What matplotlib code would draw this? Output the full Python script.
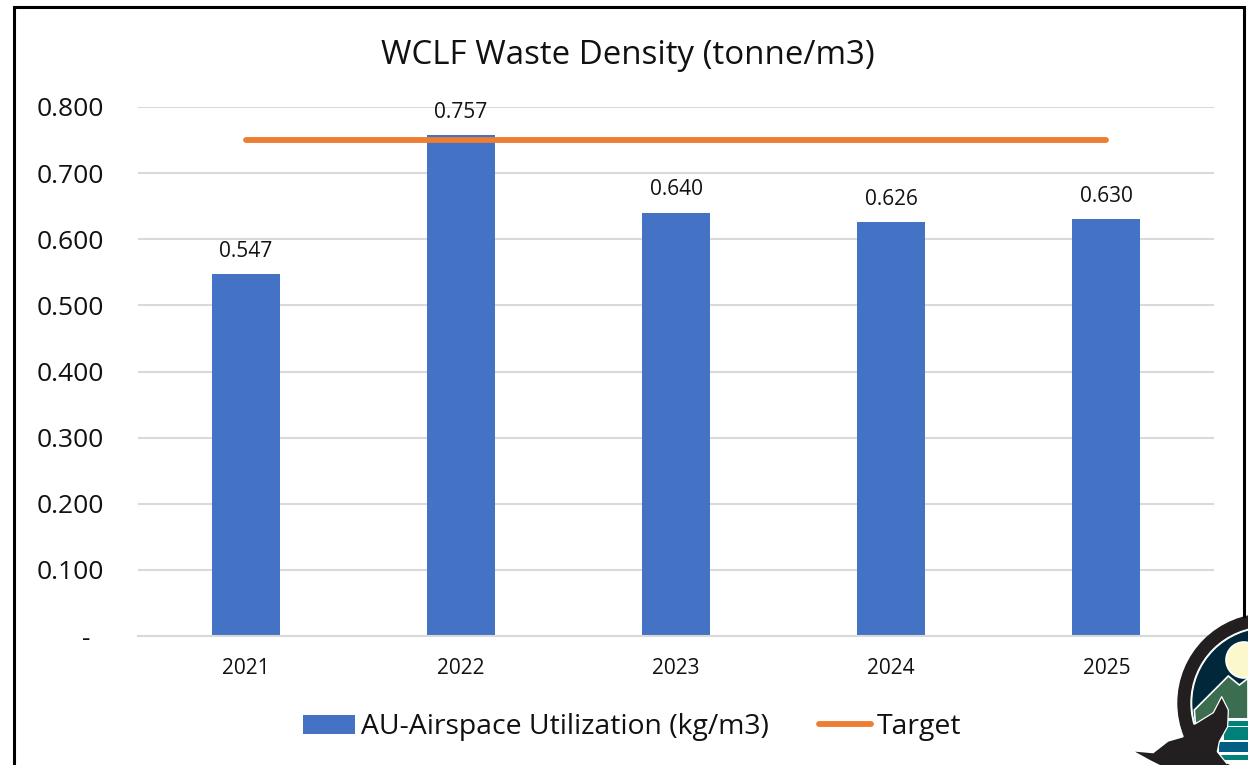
import numpy as np
import matplotlib
matplotlib.use('Agg')
import matplotlib.pyplot as plt
from matplotlib.patches import Circle, Polygon, Rectangle
from matplotlib.transforms import ScaledTranslation

years = ['2021', '2022', '2023', '2024', '2025']
density = [0.547, 0.757, 0.640, 0.626, 0.630]
target = [0.75, 0.75, 0.75, 0.75, 0.75]
yticks = [0.0, 0.1, 0.2, 0.3, 0.4, 0.5, 0.6, 0.7, 0.8]
ytick_labels = ['-', '0.100', '0.200', '0.300', '0.400', '0.500', '0.600', '0.700', '0.800']

W, H = 1248, 765
BLUE = '#4472C4'
ORANGE = '#ED7D31'
plt.rcParams['font.family'] = ['Open Sans', 'DejaVu Sans']

fig = plt.figure(figsize=(W / 100, H / 100), dpi=100)

# chart area, placed from pixel positions in the reference
ax = fig.add_axes([138 / W, 1 - 636 / H, (1214 - 138) / W, (636 - 107) / H])
x = np.arange(len(years))
bars = ax.bar(x, density, width=0.316, color=BLUE, zorder=2,
              label='AU-Airspace Utilization (kg/m3)')
line, = ax.plot(x, target, color=ORANGE, linewidth=4.2, solid_capstyle='round',
                zorder=3, label='Target')
for xi, v in zip(x, density):
    ax.annotate(f'{v:.3f}', (xi, v), xytext=(0, 12.5), textcoords='offset pixels',
                ha='center', va='bottom', fontsize=15, color='#111111', zorder=4)

ax.set_xlim(-0.5, 4.5)
ax.set_ylim(0, 0.8)
ax.set_yticks(yticks)
ax.set_yticklabels(ytick_labels, fontsize=19, color='#111111')
ax.set_xticks(x)
ax.set_xticklabels(years, fontsize=15, color='#111111')
ax.tick_params(axis='both', length=0)
ax.tick_params(axis='y', pad=24.5)
ax.tick_params(axis='x', pad=15.5)
ax.grid(axis='y', color='#D9D9D9', linewidth=1.5, zorder=0)
ax.set_axisbelow(True)
for s in ['top', 'right', 'left']:
    ax.spines[s].set_visible(False)
ax.spines['bottom'].set_color('#D9D9D9')
ax.spines['bottom'].set_linewidth(1.5)

# the zero label is a dash pushed left, accounting style
dash = ax.get_yticklabels()[0]
dash.set_transform(dash.get_transform() + ScaledTranslation(-14 / 100, 0, fig.dpi_scale_trans))

fig.text(628 / W, 1 - 55 / H, 'WCLF Waste Density (tonne/m3)', ha='center', va='center',
         fontsize=23.8, color='#111111')

fig.legend(handles=[bars, line], loc='center', bbox_to_anchor=(632 / W, 1 - 727 / H),
           ncol=2, frameon=False, fontsize=20.4, handlelength=1.85, handleheight=0.65,
           handletextpad=0.18, columnspacing=1.78, labelcolor='#111111')

# frame and logo sit on top in pixel coordinates
over = fig.add_axes([0, 0, 1, 1], zorder=5)
over.set_xlim(0, W)
over.set_ylim(H, 0)
over.axis('off')
over.patch.set_alpha(0)
over.plot([13.5, 13.5, 1244, 1244], [H, 6.5, 6.5, 616], color='black', linewidth=2.2,
          solid_joinstyle='miter')

def zoomed(pts):
    return [(1100 + a / 3, 600 + b / 3) for a, b in pts]

cx, cy = 1267, 703
over.add_patch(Circle((cx, cy), 89, color='#231F20', zorder=1))
over.add_patch(Circle((cx, cy), 76, color='white', zorder=2))
over.add_patch(Circle((cx, cy), 74, color='#00283A', zorder=3))
over.add_patch(Polygon(zoomed([(283, 330), (385, 228), (418, 255), (444, 235), (444, 355), (290, 420)]),
                       facecolor='#3B6E50', edgecolor='white', linewidth=1.2, zorder=4))
over.add_patch(Circle((1100 + 432 / 3, 600 + 180 / 3), 18, facecolor='#FBF9CC', edgecolor='white',
                      linewidth=1.2, zorder=5))
over.add_patch(Rectangle((1100 + 340 / 3, 600 + 355 / 3), 40, 50, color='white', zorder=5, linewidth=0))
over.add_patch(Rectangle((1100 + 385 / 3, 600 + 364 / 3), 22, 5, color='#00827A', zorder=6, linewidth=0))
over.add_patch(Rectangle((1100 + 372 / 3, 600 + 382 / 3), 26, 13, color='#00827A', zorder=6, linewidth=0))
over.add_patch(Rectangle((1100 + 358 / 3, 600 + 425 / 3), 30, 10, color='#005F83', zorder=6, linewidth=0))
over.add_patch(Rectangle((1100 + 362 / 3, 600 + 466 / 3), 28, 5, color='#00827A', zorder=6, linewidth=0))
tail = [(105, 455), (160, 460), (205, 425), (250, 412), (262, 385), (285, 372), (340, 338), (365, 290),
        (385, 330), (383, 380), (358, 425), (352, 455), (380, 490), (400, 500), (190, 500), (150, 480)]
over.add_patch(Polygon(zoomed(tail), facecolor='#231F20', edgecolor='none', zorder=7))
edge = np.array(zoomed(tail[5:13]))
over.plot(edge[:, 0], edge[:, 1], color='white', linewidth=0.9, zorder=8)

fig.savefig('out.png', dpi=100)
